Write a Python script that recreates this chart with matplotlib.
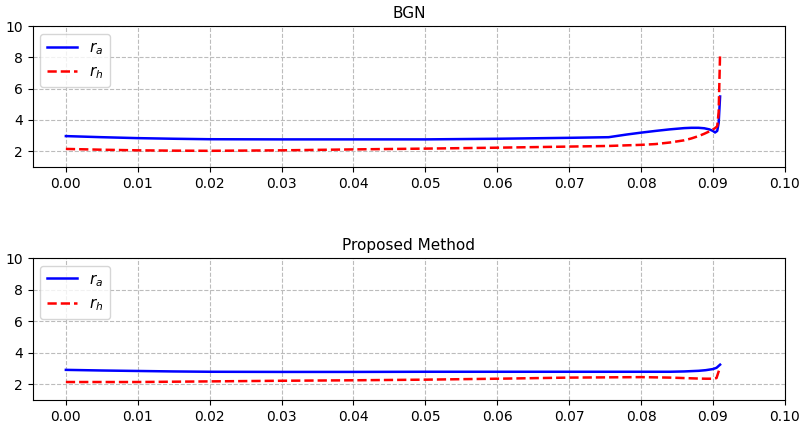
import numpy as np
import matplotlib
matplotlib.use("Agg")
import matplotlib.pyplot as plt

# BGN curves
x_bgn = [0.000, 0.005, 0.010, 0.015, 0.020, 0.030, 0.040, 0.050, 0.060, 0.070,
         0.0755, 0.078, 0.080, 0.082, 0.084, 0.086, 0.087, 0.088, 0.0888,
         0.0895, 0.0900, 0.0903, 0.0906, 0.0908, 0.0910]
ra_bgn = [2.97, 2.90, 2.84, 2.80, 2.77, 2.76, 2.76, 2.76, 2.80, 2.86,
          2.90, 3.07, 3.19, 3.30, 3.40, 3.48, 3.50, 3.50, 3.47,
          3.40, 3.30, 3.20, 3.30, 3.80, 5.50]
rh_bgn = [2.15, 2.10, 2.06, 2.04, 2.03, 2.06, 2.12, 2.17, 2.23, 2.30,
          2.34, 2.38, 2.41, 2.46, 2.56, 2.70, 2.82, 2.97, 3.12,
          3.27, 3.40, 3.48, 3.60, 4.50, 8.30]

# Proposed method curves
x_prop = [0.000, 0.005, 0.010, 0.015, 0.020, 0.030, 0.040, 0.050, 0.060, 0.070,
          0.080, 0.084, 0.086, 0.088, 0.089, 0.0900, 0.0905, 0.0910]
ra_prop = [2.92, 2.88, 2.85, 2.82, 2.80, 2.79, 2.79, 2.80, 2.80, 2.80,
           2.80, 2.80, 2.82, 2.86, 2.90, 2.97, 3.05, 3.25]
rh_prop = [2.15, 2.15, 2.15, 2.17, 2.19, 2.23, 2.26, 2.30, 2.36, 2.43,
           2.46, 2.43, 2.40, 2.37, 2.36, 2.36, 2.40, 3.10]

panels = [
    ("BGN", x_bgn, ra_bgn, rh_bgn),
    ("Proposed Method", x_prop, ra_prop, rh_prop),
]

fig = plt.figure(figsize=(8, 4.28), dpi=100)
rects = [[0.041, 0.610, 0.940, 0.329], [0.041, 0.065, 0.940, 0.332]]
xt = np.arange(0, 0.101, 0.01)

for rect, (title, x, ra, rh) in zip(rects, panels):
    ax = fig.add_axes(rect)
    ax.plot(x, ra, color="blue", lw=1.8, label=r"$r_a$")
    ax.plot(x, rh, color="red", lw=1.8, ls="--", label=r"$r_h$")
    ax.set_title(title, fontsize=11)
    ax.set_xlim(-0.0046, 0.100)
    ax.set_ylim(1, 10)
    ax.set_xticks(xt)
    ax.set_xticklabels([f"{t:.2f}" for t in xt])
    ax.set_yticks([2, 4, 6, 8, 10])
    ax.tick_params(labelsize=10)
    ax.grid(True, ls="--", color="#bcbcbc", lw=0.8)
    ax.legend(loc="upper left", fontsize=11)

fig.savefig("out.png", dpi=100)
